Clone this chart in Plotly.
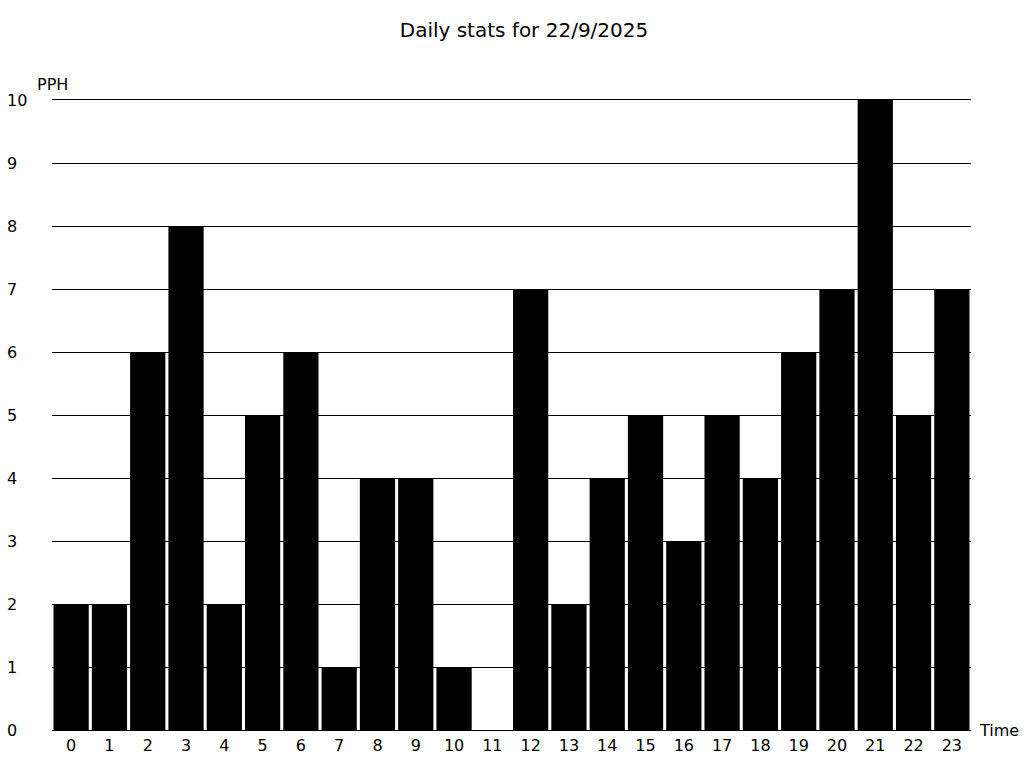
import plotly.graph_objects as go

hours = [str(h) for h in range(24)]
pph = [2, 2, 6, 8, 2, 5, 6, 1, 4, 4, 1, 0, 7, 2, 4, 5, 3, 5, 4, 6, 7, 10, 5, 7]
y_ticks = list(range(0, 11))

FONT = "DejaVu Sans"
PLOT_W = 1024 - 52 - 53

fig = go.Figure(go.Bar(x=hours, y=pph, marker=dict(color="black", line=dict(width=0))))

annotations = [
    dict(text=str(v), xref="paper", yref="y", x=(5 - 52) / PLOT_W, y=v, xanchor="left",
         yanchor="middle", showarrow=False, font=dict(family=FONT, size=16, color="black"))
    for v in y_ticks
]
annotations += [
    dict(text="PPH", xref="paper", yref="paper", x=0.0, y=1.0, xanchor="center", yanchor="bottom",
         yshift=4, showarrow=False, font=dict(family=FONT, size=16, color="black")),
    dict(text="Time", xref="paper", yref="paper", x=1.0, y=0.0, xanchor="left", yanchor="middle",
         xshift=6, showarrow=False, font=dict(family=FONT, size=16, color="black")),
]

fig.update_layout(
    width=1024, height=768,
    paper_bgcolor="white", plot_bgcolor="white",
    margin=dict(l=52, r=53, t=100, b=38, autoexpand=False),
    bargap=0.08,
    showlegend=False,
    font=dict(family=FONT, size=16, color="black"),
    title=dict(text="Daily stats for 22/9/2025", x=524 / 1024, xanchor="center",
               y=1 - 30 / 768, yanchor="middle",
               font=dict(family=FONT, size=20, color="black")),
    xaxis=dict(type="category", range=[-0.5, 23.5], showgrid=False,
               showline=True, linecolor="black", linewidth=1, mirror=True,
               ticks="", tickfont=dict(size=16), ticklabelstandoff=1, zeroline=False),
    yaxis=dict(range=[0, 10], tickvals=y_ticks, showgrid=True, gridcolor="black", gridwidth=1,
               zeroline=False, showline=False, showticklabels=False, ticks=""),
    annotations=annotations,
)

fig.write_html("out.html", config={"displayModeBar": False},
               post_script="document.body.style.margin='0';")
